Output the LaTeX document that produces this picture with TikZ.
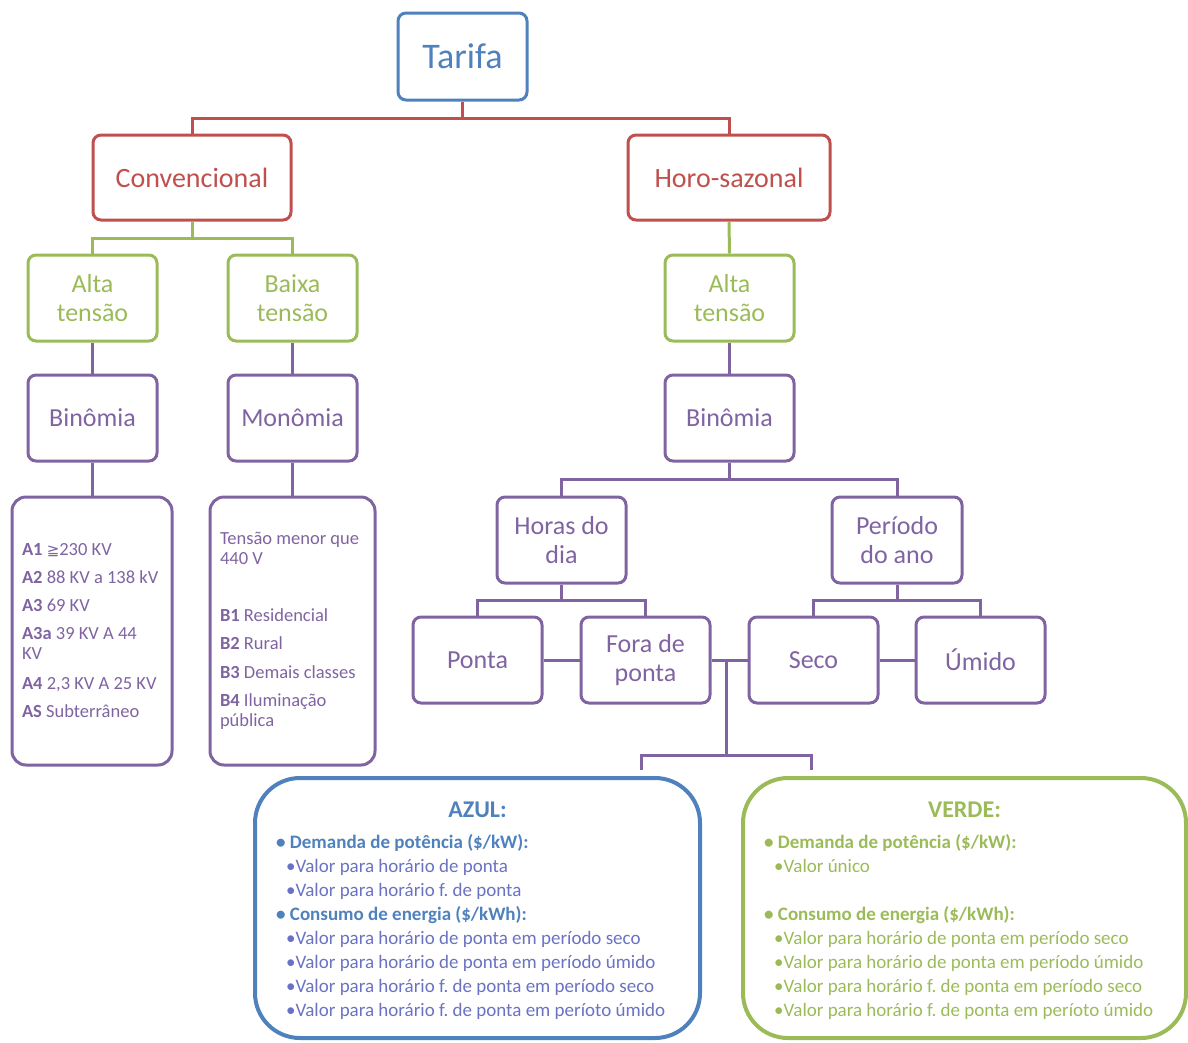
\documentclass[tikz,border=0pt]{standalone}
\usepackage{fontspec}
\setmainfont{Carlito}
\newfontfamily\symfont{DejaVu Sans}
\definecolor{cblue}{HTML}{4F81BD}
\definecolor{cred}{HTML}{C0504D}
\definecolor{cgreen}{HTML}{9BBB59}
\definecolor{cpurple}{HTML}{8064A2}
\definecolor{clav}{HTML}{6A72C2}
\frenchspacing
\begin{document}
\begin{tikzpicture}[x=1pt,y=-1pt,
  box/.style={draw, rounded corners=8pt, line width=3pt, inner sep=0pt, align=center,
    fill=white, minimum width=129pt, minimum height=86pt, font=\fontsize{26}{29}\selectfont},
  bluebox/.style={box, draw=cblue, text=cblue},
  redbox/.style={box, draw=cred, text=cred, font=\fontsize{28}{30}\selectfont},
  greenbox/.style={box, draw=cgreen, text=cgreen},
  purplebox/.style={box, draw=cpurple, text=cpurple},
  listbox/.style={draw=cpurple, text=cpurple, rounded corners=14pt, line width=3pt, fill=white,
    inner sep=0pt, align=flush left, minimum height=268pt, font=\fontsize{18.5}{20}\selectfont},
  bigbox/.style={draw, rounded corners=45pt, line width=4pt, minimum width=443pt, minimum height=260pt},
  wire/.style={line width=3pt},
  listtext/.style={anchor=north west, inner sep=0pt, align=left, font=\fontsize{19}{24}\selectfont},
  titletext/.style={inner sep=0pt, font=\fontsize{24}{26}\selectfont\bfseries}
]
\useasboundingbox (0,0) rectangle (1188,1042);

% --- top levels
\node[bluebox, minimum height=87pt, font=\fontsize{36}{40}\selectfont] (tarifa) at (462.5,56.5) {Tarifa};
\node[redbox, minimum width=198pt, minimum height=85pt] (conv) at (192,177.5) {Convencional};
\node[redbox, minimum width=202pt, minimum height=85pt] (horo) at (729,177.5) {Horo-sazonal};

\node[greenbox] (altaL) at (92.5,298) {Alta\\tensão};
\node[greenbox] (baixa) at (292.5,298) {Baixa\\tensão};
\node[greenbox] (altaR) at (729.5,298) {Alta\\tensão};

\node[purplebox] (binL) at (92.5,418) {Binômia};
\node[purplebox] (mono) at (292.5,418) {Monômia};
\node[purplebox] (binR) at (729.5,418) {Binômia};

% --- group A and group B lists
\node[listbox, minimum width=160pt, text width=140pt] (listA) at (92,631)
 {\textbf{A1} {\symfont\fontsize{15}{20}\selectfont ≧}230 KV\\[8pt]
  \textbf{A2} 88 KV a 138 kV\\[8pt]
  \textbf{A3} 69 KV\\[8pt]
  \textbf{A3a} 39 KV A 44\\
  KV\\[10pt]
  \textbf{A4} 2,3 KV A 25 KV\\[8pt]
  \textbf{AS} Subterrâneo};
\node[listbox, minimum width=165pt, text width=145pt] (listB) at (292.5,631)
 {Tensão menor que\\
  440 V\\[37pt]
  \textbf{B1} Residencial\\[8pt]
  \textbf{B2} Rural\\[9pt]
  \textbf{B3} Demais classes\\[8pt]
  \textbf{B4} Iluminação\\
  pública};

% --- hourly / seasonal branch
\node[purplebox] (horas) at (561.5,540) {Horas do\\dia};
\node[purplebox, minimum width=130pt] (periodo) at (897,540) {Período\\do ano};
\node[purplebox] (ponta) at (477.5,660) {Ponta};
\node[purplebox] (fora) at (645.5,660) {Fora de\\ponta};
\node[purplebox] (seco) at (813.5,660) {Seco};
\node[purplebox] (umido) at (980.5,660) {Úmido};

% --- tariff boxes
\node[bigbox, draw=cblue, minimum width=445pt] (azul) at (477.5,908) {};
\node[bigbox, draw=cgreen] (verde) at (964.5,908) {};

\node[titletext, text=cblue] (azultitle) at (477.5,810) {AZUL:};
\node[listtext, text=clav] (azullist) at (276,834)
 {\textcolor{cblue}{\textbf{• Demanda de potência (\$/kW):}}\\
  \hspace*{10pt}•Valor para horário de ponta\\
  \hspace*{10pt}•Valor para horário f. de ponta\\
  \textcolor{cblue}{\textbf{• Consumo de energia (\$/kWh):}}\\
  \hspace*{10pt}•Valor para horário de ponta em período seco\\
  \hspace*{10pt}•Valor para horário de ponta em período úmido\\
  \hspace*{10pt}•Valor para horário f. de ponta em período seco\\
  \hspace*{10pt}•Valor para horário f. de ponta em períoto úmido};

\node[titletext, text=cgreen] (verdetitle) at (964.5,810) {VERDE:};
\node[listtext, text=cgreen] (verdelist) at (764,834)
 {\textbf{• Demanda de potência (\$/kW):}\\
  \hspace*{10pt}•Valor único\\[24pt]
  \textbf{• Consumo de energia (\$/kWh):}\\
  \hspace*{10pt}•Valor para horário de ponta em período seco\\
  \hspace*{10pt}•Valor para horário de ponta em período úmido\\
  \hspace*{10pt}•Valor para horário f. de ponta em período seco\\
  \hspace*{10pt}•Valor para horário f. de ponta em períoto úmido};

% --- connectors
\coordinate (j0) at (462.5,118);
\draw[wire, cred] (tarifa.south) -- (j0) -| (conv.north);
\draw[wire, cred] (j0) -| (horo.north);

\coordinate (j1) at (192,238);
\draw[wire, cgreen] (conv.south) -- (j1) -| (altaL.north);
\draw[wire, cgreen] (j1) -| (baixa.north);
\draw[wire, cgreen] (horo.south) -- (altaR.north);

\draw[wire, cpurple] (altaL.south) -- (binL.north);
\draw[wire, cpurple] (baixa.south) -- (mono.north);
\draw[wire, cpurple] (altaR.south) -- (binR.north);
\draw[wire, cpurple] (binL.south) -- (listA.north -| binL.south);
\draw[wire, cpurple] (mono.south) -- (listB.north -| mono.south);

\coordinate (j2) at (729.5,479);
\draw[wire, cpurple] (binR.south) -- (j2) -| (horas.north);
\draw[wire, cpurple] (j2) -| (periodo.north);

\coordinate (j3) at (561.5,600);
\draw[wire, cpurple] (horas.south) -- (j3) -| (ponta.north);
\draw[wire, cpurple] (j3) -| (fora.north);
\coordinate (j4) at (897,600);
\draw[wire, cpurple] (periodo.south) -- (j4) -| (seco.north);
\draw[wire, cpurple] (j4) -| (umido.north);

\draw[wire, cpurple] (ponta.east) -- (fora.west);
\draw[wire, cpurple] (seco.east) -- (umido.west);
\draw[wire, cpurple] (fora.east) -- (seco.west);

\coordinate (j5) at (726,660);
\coordinate (j6) at (726,755);
\coordinate (azulstub) at (641,770);
\coordinate (verdestub) at (811,770);
\draw[wire, cpurple] (j5) -- (j6);
\draw[wire, cpurple] (azulstub) |- (j6) -| (verdestub);
\end{tikzpicture}
\end{document}
